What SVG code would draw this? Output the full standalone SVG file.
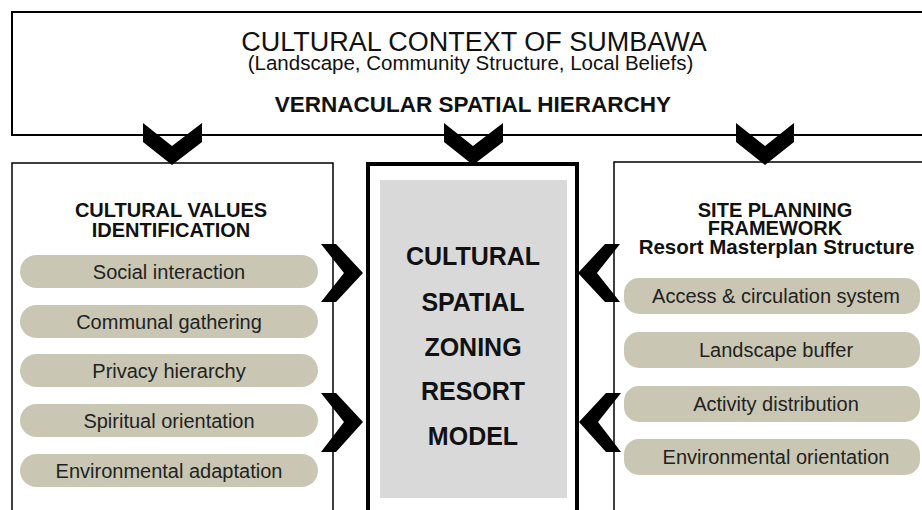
<svg xmlns="http://www.w3.org/2000/svg" width="922" height="510" viewBox="0 0 922 510">
<style>
.t{font-family:"Liberation Sans",Arial,sans-serif;fill:#111;text-anchor:middle}
.b{font-weight:bold}
.pill{fill:#c9c7b3}
.pt{font-family:"Liberation Sans",Arial,sans-serif;font-size:20px;fill:#222;text-anchor:middle}
.chev{fill:#000}
</style>
<rect width="922" height="510" fill="#fff"/>
<g id="context">
<path d="M930,12 H12 V135 H930" fill="#fff" stroke="#000" stroke-width="2"/>
<text class="t" x="474" y="51" font-size="27">CULTURAL CONTEXT OF SUMBAWA</text>
<text class="t" x="470.5" y="70" font-size="20.5">(Landscape, Community Structure, Local Beliefs)</text>
<text class="t b" x="473" y="112" font-size="22.5">VERNACULAR SPATIAL HIERARCHY</text>
</g>
<g id="values">
<path d="M12,520 V163 H333 V520" fill="#fff" stroke="#000" stroke-width="1.5"/>
<text class="t b" x="171" y="217" font-size="20">CULTURAL VALUES</text>
<text class="t b" x="171" y="237" font-size="20">IDENTIFICATION</text>
<rect class="pill" x="20" y="255" width="298" height="33" rx="16.5"/>
<text class="pt" x="169" y="278.5">Social interaction</text>
<rect class="pill" x="20" y="305" width="298" height="33" rx="16.5"/>
<text class="pt" x="169" y="328.5">Communal gathering</text>
<rect class="pill" x="20" y="354" width="298" height="33" rx="16.5"/>
<text class="pt" x="169" y="378">Privacy hierarchy</text>
<rect class="pill" x="20" y="404" width="298" height="33" rx="16.5"/>
<text class="pt" x="169" y="428">Spiritual orientation</text>
<rect class="pill" x="20" y="454" width="298" height="33" rx="16.5"/>
<text class="pt" x="169" y="477.5">Environmental adaptation</text>
</g>
<g id="model">
<rect x="368" y="164" width="209" height="360" fill="#fff" stroke="#000" stroke-width="4"/>
<rect x="380" y="180" width="187" height="318" fill="#d9d9d9"/>
<text class="t b" x="473" y="265" font-size="25">CULTURAL</text>
<text class="t b" x="473" y="311" font-size="25">SPATIAL</text>
<text class="t b" x="473" y="356" font-size="25">ZONING</text>
<text class="t b" x="473" y="400" font-size="25">RESORT</text>
<text class="t b" x="473" y="445" font-size="25">MODEL</text>
</g>
<g id="framework">
<path d="M930,162 H614 V520" fill="#fff" stroke="#000" stroke-width="1.5"/>
<text class="t b" x="775" y="217" font-size="20">SITE PLANNING</text>
<text class="t b" x="775" y="235" font-size="20">FRAMEWORK</text>
<text class="t b" x="776.5" y="254" font-size="20.5">Resort Masterplan Structure</text>
<rect class="pill" x="624" y="278" width="296" height="36" rx="15"/>
<text class="pt" x="776" y="303">Access &amp; circulation system</text>
<rect class="pill" x="624" y="332" width="296" height="36" rx="15"/>
<text class="pt" x="776" y="357">Landscape buffer</text>
<rect class="pill" x="624" y="386" width="296" height="36" rx="15"/>
<text class="pt" x="776" y="411">Activity distribution</text>
<rect class="pill" x="624" y="439" width="296" height="36" rx="15"/>
<text class="pt" x="776" y="464">Environmental orientation</text>
</g>
<g id="connectors">
<polygon class="chev" points="143,123 172,146 202,123 202,142 172,165 143,142"/>
<polygon class="chev" points="444,123 473,146 503,123 503,142 473,165 444,142"/>
<polygon class="chev" points="736,123 765,146 794,123 794,142 765,165 736,142"/>
<polygon class="chev" points="321,244 336,244 363,273 336,302 321,302 344,273"/>
<polygon class="chev" points="321,393 336,393 363,422 336,452 321,452 344,422"/>
<polygon class="chev" points="620,244 605,244 578,273 605,302 620,302 597,273"/>
<polygon class="chev" points="621,393 606,393 579,422 606,452 621,452 598,422"/>
</g>
</svg>
